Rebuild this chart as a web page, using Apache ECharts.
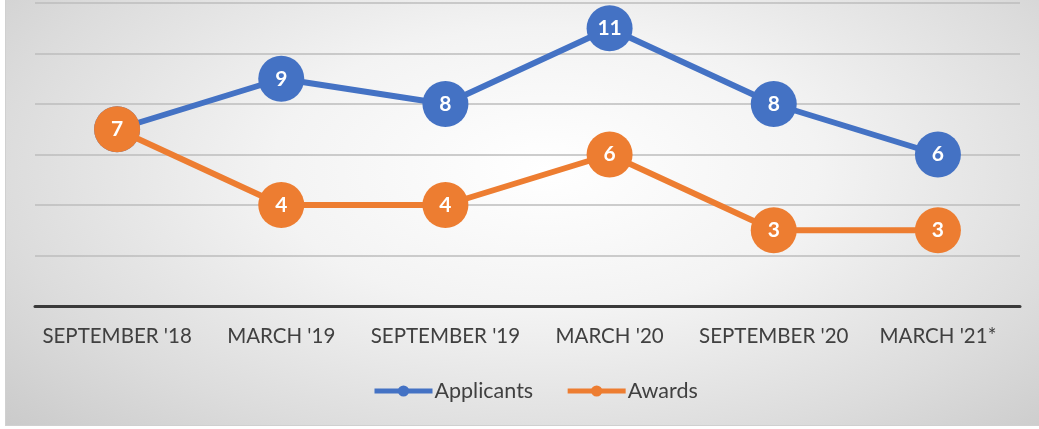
<!DOCTYPE html>
<html>
<head>
<meta charset="utf-8">
<script src="https://cdn.jsdelivr.net/npm/echarts@6/dist/echarts.min.js"></script>
<style>
html,body{margin:0;padding:0;background:#fff;}
#frame{position:absolute;left:5px;top:-2px;width:1040px;height:428px;border:1px solid #d0d0d0;box-sizing:border-box;
background:radial-gradient(ellipse 75% 95% at 52% 40%, #ffffff 0%, #f3f3f3 35%, #dcdcdc 70%, #c6c6c6 100%);}
#chart{position:absolute;left:0;top:0;width:1039px;height:429px;}
</style>
</head>
<body>
<div id="frame"></div>
<div id="chart"></div>
<script>
const categories = ["SEPTEMBER '18", "MARCH '19", "SEPTEMBER '19", "MARCH '20", "SEPTEMBER '20", "MARCH '21*"];
const applicants = [7, 9, 8, 11, 8, 6];
const awards = [7, 4, 4, 6, 3, 3];
const yMin = 0, yMax = 12, yStep = 2;

const font = 'Lato, "Open Sans", sans-serif';
const chart = echarts.init(document.getElementById('chart'), null, {renderer:'canvas'});
function mk(name, data, color, z){
  return {
    name, type:'line', data, z,
    symbol:'circle', symbolSize:46,
    itemStyle:{color},
    lineStyle:{color, width:6},
    label:{show:true, position:'inside', color:'#fff', fontWeight:'bold', fontSize:21, fontFamily:font},
    emphasis:{disabled:true}, animation:false
  };
}
chart.setOption({
  backgroundColor:'transparent',
  animation:false,
  grid:{left:35, right:19, top:3, bottom:123},
  xAxis:{type:'category', data:categories, boundaryGap:true,
    axisLine:{lineStyle:{color:'#3a3a3a', width:3}},
    axisTick:{show:false},
    axisLabel:{color:'#404040', fontSize:20.5, fontFamily:font, margin:20, interval:0, hideOverlap:false}},
  yAxis:{type:'value', min:yMin, max:yMax, interval:yStep,
    axisLabel:{show:false}, axisLine:{show:false}, axisTick:{show:false},
    splitLine:{lineStyle:{color:'#bdbdbd', width:1.5}}},
  legend:{bottom:22, left:367, itemWidth:58, itemHeight:14, itemGap:32,
    lineStyle:{width:5},
    textStyle:{color:'#404040', fontSize:21.5, fontFamily:font, padding:[0,0,0,-3]},
    data:[{name:'Applicants'},{name:'Awards'}]},
  series:[mk('Applicants', applicants, '#4472C4', 2), mk('Awards', awards, '#ED7D31', 3)]
});
</script>
</body>
</html>
